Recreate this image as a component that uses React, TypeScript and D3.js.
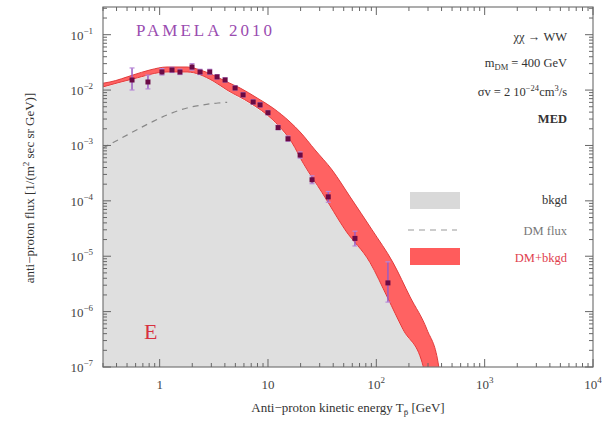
import React from 'react';
import * as d3 from 'd3';

const W = 602;
const H = 425;

// DM+bkgd band (upper / lower edges)
const upperE = [0.3, 0.348, 0.568, 0.815, 1.17, 1.79, 2.36, 3.11, 4.19, 5.53, 7.93, 11.1, 16.0, 19.8, 27.2, 39.1, 57.3, 91.4, 143, 205, 294, 372, 420];
const upperF = [1.33e-2, 1.4e-2, 1.87e-2, 2.31e-2, 2.61e-2, 2.61e-2, 2.31e-2, 1.87e-2, 1.4e-2, 1.09e-2, 7.2e-3, 4.75e-3, 2.65e-3, 1.75e-3, 8.3e-4, 3.6e-4, 1.18e-4, 2.99e-5, 7.6e-6, 1.84e-6, 4.7e-7, 1.19e-7, 2e-8];
const lowerE = [0.3, 0.568, 1.17, 1.79, 3.11, 4.19, 6.84, 11.1, 16.7, 21.1, 31.6, 51.5, 87.7, 126, 177, 265, 300];
const lowerF = [1.14e-2, 1.59e-2, 2.12e-2, 2.12e-2, 1.46e-2, 1.0e-2, 5.85e-3, 2.88e-3, 1.11e-3, 4.8e-4, 1.4e-4, 2.99e-5, 7.6e-6, 1.84e-6, 4.7e-7, 1.19e-7, 3e-8];

// background
const bkgdE = [0.3, 0.568, 1.17, 1.79, 3.11, 4.19, 6.84, 11.1, 16.7, 21.1, 31.6, 51.5, 87.7, 126, 177, 265, 300];
const bkgdF = [1.1e-2, 1.54e-2, 2.05e-2, 2.05e-2, 1.41e-2, 9.6e-3, 5.6e-3, 2.75e-3, 1.06e-3, 4.6e-4, 1.35e-4, 2.9e-5, 7.3e-6, 1.78e-6, 4.5e-7, 1.15e-7, 2.9e-8];

// DM flux (dashed)
const dmE = [0.3, 0.413, 0.815, 1.17, 1.79, 2.52, 3.46, 4.2];
const dmF = [9.0e-4, 1.26e-3, 2.55e-3, 3.56e-3, 4.75e-3, 5.4e-3, 5.85e-3, 6.0e-3];

// PAMELA 2010 data
const dataE = [0.556, 0.78, 1.05, 1.3, 1.54, 1.99, 2.36, 2.9, 3.39, 4.02, 4.97, 5.89, 7.3, 8.45, 10.0, 12.4, 15.3, 19.8, 25.5, 36, 63.5, 128];
const dataF = [1.52e-2, 1.4e-2, 2.12e-2, 2.31e-2, 2.12e-2, 2.61e-2, 2.12e-2, 2.12e-2, 1.73e-2, 1.52e-2, 1.09e-2, 8.2e-3, 6.1e-3, 5.4e-3, 3.9e-3, 2.1e-3, 1.32e-3, 6.7e-4, 2.4e-4, 1.18e-4, 2.1e-5, 3.3e-6];
const dataErrUp = [0.65, 0.33, 0.15, 0.12, 0.12, 0.15, 0.12, 0.12, 0.1, 0.1, 0.1, 0.1, 0.1, 0.1, 0.1, 0.1, 0.12, 0.14, 0.18, 0.25, 0.35, 1.4];
const dataErrDown = [0.34, 0.25, 0.12, 0.1, 0.1, 0.12, 0.1, 0.1, 0.08, 0.08, 0.08, 0.08, 0.08, 0.08, 0.08, 0.08, 0.1, 0.12, 0.15, 0.2, 0.27, 0.55];

const xTickVals = [1, 10, 100, 1000, 10000];
const xTickLabels = [['1', ''], ['10', ''], ['10', '2'], ['10', '3'], ['10', '4']];
const yTickVals = [1e-1, 1e-2, 1e-3, 1e-4, 1e-5, 1e-6, 1e-7];
const yTickExps = ['−1', '−2', '−3', '−4', '−5', '−6', '−7'];

const L = 103, R = 593, T = 7, B = 367;

export default function App() {
  const x = d3.scaleLog().domain([0.3, 1e4]).range([L, R]);
  const y = d3.scaleLog().domain([1e-7, Math.pow(10, -0.5)]).range([B, T]);

  const line = d3.line<[number, number]>().x(d => x(d[0])).y(d => y(d[1])).curve(d3.curveMonotoneX);
  const up = upperE.map((e, i) => [e, upperF[i]] as [number, number]);
  const lo = lowerE.map((e, i) => [e, lowerF[i]] as [number, number]);
  const upPath = line(up)!;
  const loPathRev = line(lo.slice().reverse())!;
  const bandPath = upPath + 'L' + loPathRev.slice(1) + 'Z';

  const bk = bkgdE.map((e, i) => [e, bkgdF[i]] as [number, number]);
  const area = d3.area<[number, number]>().x(d => x(d[0])).y0(B + 20).y1(d => y(d[1])).curve(d3.curveMonotoneX);
  const dm = dmE.map((e, i) => [e, dmF[i]] as [number, number]);

  const xMinor: number[] = [];
  for (let p = -1; p < 4; p++) for (let k = 1; k < 10; k++) {
    const v = k * Math.pow(10, p);
    if (v >= 0.3 && v <= 1e4) xMinor.push(v);
  }
  xMinor.push(1e4);
  const yMinor: number[] = [];
  for (let p = -7; p < 0; p++) for (let k = 1; k < 10; k++) {
    const v = k * Math.pow(10, p);
    if (v <= Math.pow(10, -0.5)) yMinor.push(v);
  }
  const isMajor = (v: number) => Math.abs(Math.log10(v) - Math.round(Math.log10(v))) < 1e-9;
  const tc = '#666';
  const font = 'Liberation Serif, DejaVu Serif, serif';

  return (
    <div style={{ position: 'absolute', left: 0, top: 0 }}>
      <svg width={W} height={H} style={{ display: 'block', background: '#fff' }} fontFamily={font}>
        <defs>
          <clipPath id="plot"><rect x={L} y={T} width={R - L} height={B - T} /></clipPath>
        </defs>
        <g clipPath="url(#plot)">
          <path d={area(bk)!} fill="#dfdfdf" />
          <path d={line(dm)!} fill="none" stroke="#888" strokeWidth={1.2} strokeDasharray="6,5" />
          <path d={bandPath} fill="#ff6262" stroke="#e03c3c" strokeWidth={1} />
          {dataE.map((e, i) => {
            const f = dataF[i];
            const yU = y(f * (1 + dataErrUp[i]));
            const yD = y(f * (1 - dataErrDown[i]));
            const cx = x(e);
            return (
              <g key={i}>
                <line x1={cx} x2={cx} y1={yU} y2={yD} stroke="#9b5cc4" strokeWidth={1.5} />
                <line x1={cx - 2.5} x2={cx + 2.5} y1={yU} y2={yU} stroke="#b98ad8" strokeWidth={1.2} />
                <line x1={cx - 2.5} x2={cx + 2.5} y1={yD} y2={yD} stroke="#b98ad8" strokeWidth={1.2} />
                <rect x={cx - 2.5} y={y(f) - 2.5} width={5} height={5} fill="#6a0a45" />
              </g>
            );
          })}
        </g>
        <rect x={L} y={T} width={R - L} height={B - T} fill="none" stroke="#777" strokeWidth={1.2} />
        {xMinor.map((v, i) => {
          const len = isMajor(v) ? 8 : 4;
          const px = x(v);
          return (
            <g key={'xm' + i}>
              <line x1={px} x2={px} y1={B} y2={B - len} stroke={tc} strokeWidth={1} />
              <line x1={px} x2={px} y1={T} y2={T + len} stroke={tc} strokeWidth={1} />
            </g>
          );
        })}
        {yMinor.map((v, i) => {
          const len = isMajor(v) ? 8 : 4;
          const py = y(v);
          return (
            <g key={'ym' + i}>
              <line x1={L} x2={L + len} y1={py} y2={py} stroke={tc} strokeWidth={1} />
              <line x1={R} x2={R - len} y1={py} y2={py} stroke={tc} strokeWidth={1} />
            </g>
          );
        })}
        {xTickVals.map((v, i) => (
          <text key={'xl' + i} x={x(v)} y={389} textAnchor="middle" fontSize={13} fill="#444">
            {xTickLabels[i][0]}
            {xTickLabels[i][1] && <tspan dy={-6} fontSize={9}>{xTickLabels[i][1]}</tspan>}
          </text>
        ))}
        {yTickVals.map((v, i) => (
          <text key={'yl' + i} x={93} y={y(v) + 5} textAnchor="end" fontSize={13} fill="#444">
            10<tspan dy={-6} fontSize={9}>{yTickExps[i]}</tspan>
          </text>
        ))}
        <text x={348} y={412} textAnchor="middle" fontSize={13} fill="#333">
          Anti−proton kinetic energy T<tspan dy={3} fontSize={9}>p̄</tspan><tspan dy={-3}> [GeV]</tspan>
        </text>
        <text transform="translate(34,188) rotate(-90)" textAnchor="middle" fontSize={13} fill="#333">
          anti−proton flux [1/(m<tspan dy={-5} fontSize={9}>2</tspan><tspan dy={5}> sec sr GeV)]</tspan>
        </text>
        <text x={136} y={36} fontSize={17} fill="#9a4cb0" textLength={136} lengthAdjust="spacing">PAMELA 2010</text>
        <text x={567} y={41} textAnchor="end" fontSize={12.5} fill="#333">χχ → WW</text>
        <text x={567} y={67} textAnchor="end" fontSize={12.5} fill="#333">
          m<tspan dy={3} fontSize={8.5}>DM</tspan><tspan dy={-3}> = 400 GeV</tspan>
        </text>
        <text x={567} y={96} textAnchor="end" fontSize={12.5} fill="#333">
          σv = 2 10<tspan dy={-5} fontSize={8.5}>−24</tspan><tspan dy={5}>cm</tspan><tspan dy={-5} fontSize={8.5}>3</tspan><tspan dy={5}>/s</tspan>
        </text>
        <text x={567} y={123} textAnchor="end" fontSize={12.5} fontWeight="bold" fill="#333">MED</text>
        <rect x={410} y={192} width={50} height={17} fill="#d9d9d9" />
        <text x={567} y={204} textAnchor="end" fontSize={12.5} fill="#333">bkgd</text>
        <line x1={408} x2={457} y1={230} y2={230} stroke="#999" strokeWidth={1.2} strokeDasharray="6,5" />
        <text x={567} y={235} textAnchor="end" fontSize={12.5} fill="#777">DM flux</text>
        <rect x={410} y={248} width={50} height={17} fill="#ff5c5c" />
        <text x={567} y={262} textAnchor="end" fontSize={12.5} fill="#e0404d">DM+bkgd</text>
        <text x={144} y={339} fontSize={22} fill="#d8303f">E</text>
      </svg>
    </div>
  );
}
